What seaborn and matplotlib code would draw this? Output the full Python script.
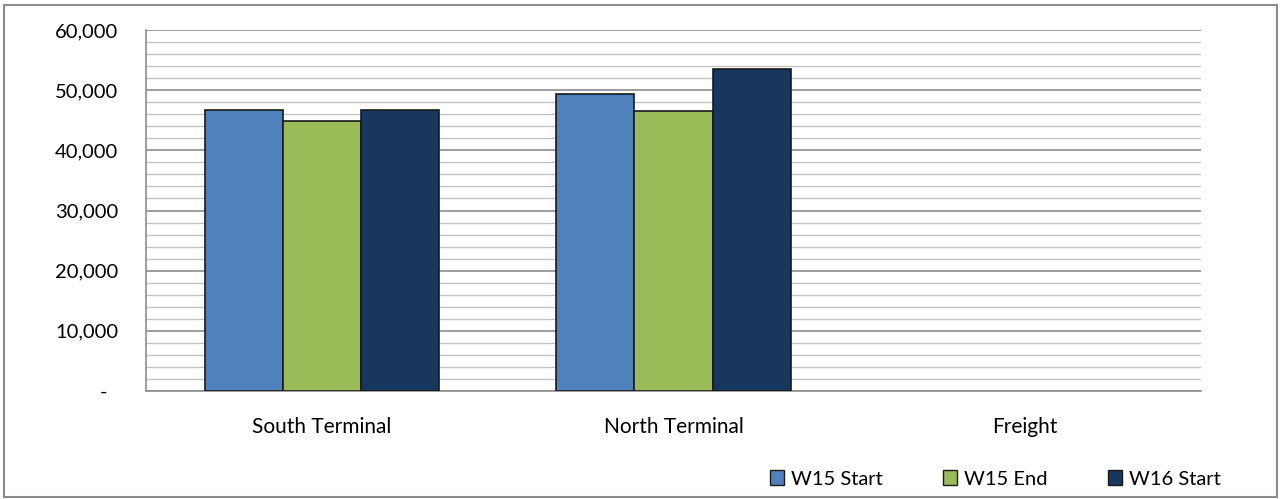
import pandas as pd
import matplotlib.pyplot as plt
import matplotlib.patches as mpatches
from matplotlib.ticker import FuncFormatter, MultipleLocator, FixedLocator
import seaborn as sns

# chart data
terminals = ["South Terminal", "North Terminal", "Freight"]
weeks = ["W15 Start", "W15 End", "W16 Start"]
w15_start = [46700, 49300, None]
w15_end = [44800, 46500, None]
w16_start = [46700, 53500, None]
colors = ["#4F81BD", "#9BBB59", "#17375E"]

rows = []
for week, vals in zip(weeks, [w15_start, w15_end, w16_start]):
    for t, v in zip(terminals, vals):
        if v is not None:
            rows.append({"Terminal": t, "Week": week, "Value": v})
df = pd.DataFrame(rows)

sns.set_style("white")
plt.rcParams["font.family"] = ["Lato", "DejaVu Sans"]
plt.rcParams["text.color"] = "black"

fig = plt.figure(figsize=(12.8, 4.99), dpi=100)
ax = fig.add_axes([146 / 1280, 1 - 391 / 499, (1201 - 146) / 1280, (391 - 30) / 499])

sns.barplot(data=df, x="Terminal", y="Value", hue="Week", order=terminals,
            hue_order=weeks, palette=colors, saturation=1, width=0.667,
            edgecolor="#1a1a1a", linewidth=1.2, ax=ax, zorder=3, legend=False)

ax.set_xlim(-0.5, 2.5)
ax.set_ylim(0, 60000)
ax.yaxis.set_major_locator(MultipleLocator(10000))
ax.yaxis.set_minor_locator(MultipleLocator(2000))
ax.yaxis.set_major_formatter(FuncFormatter(lambda v, p: "-  " if v == 0 else f"{v:,.0f}"))
ax.grid(which="major", axis="y", color="#8c8c8c", linewidth=1.2, zorder=0)
ax.grid(which="minor", axis="y", color="#c4c4c4", linewidth=1.0, zorder=0)
ax.set_axisbelow(True)

ax.xaxis.set_minor_locator(FixedLocator([-0.5, 0.5, 1.5, 2.5]))
ax.tick_params(axis="x", which="major", length=0, pad=19, labelsize=15, labelcolor="black")
ax.tick_params(axis="x", which="minor", length=6, width=1, color="#8c8c8c", direction="out")
ax.tick_params(axis="y", which="major", length=6, width=1, color="#8c8c8c", direction="out",
               pad=14, labelsize=14.5, labelcolor="black")
ax.tick_params(axis="y", which="minor", length=0)
ax.set_xlabel("")
ax.set_ylabel("")

for s in ["top", "right"]:
    ax.spines[s].set_visible(False)
for s in ["left", "bottom"]:
    ax.spines[s].set_color("#8c8c8c")
    ax.spines[s].set_linewidth(1.2)

# legend
handles = [mpatches.Patch(facecolor=c, edgecolor="#1a1a1a", linewidth=1, label=w)
           for c, w in zip(colors, weeks)]
fig.legend(handles=handles, loc="center right", bbox_to_anchor=(1229 / 1280, 1 - 479 / 499),
           ncol=3, frameon=False, fontsize=14.5, handlelength=0.7, handleheight=0.7,
           handletextpad=0.35, columnspacing=3.0, borderaxespad=0)

# outer chart border
fig.patches.append(mpatches.Rectangle((4 / 1280, 2 / 499), 1273 / 1280, 492 / 499,
                                      transform=fig.transFigure, fill=False,
                                      edgecolor="#8c8c8c", linewidth=1.5))

fig.savefig("out.png", dpi=100)
